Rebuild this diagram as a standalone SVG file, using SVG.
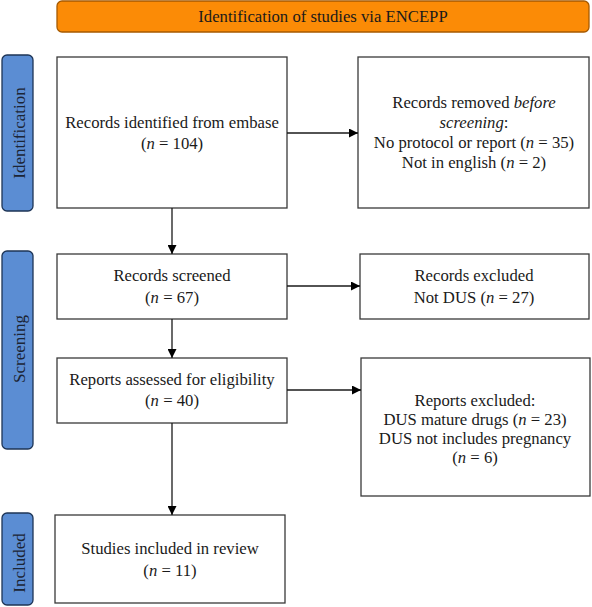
<svg xmlns="http://www.w3.org/2000/svg" width="592" height="607" viewBox="0 0 592 607">
<style>
  .box { fill: #ffffff; stroke: #3a3a3a; stroke-width: 1.3; }
  .side { fill: #5b8dd3; stroke: #1e3556; stroke-width: 1.3; }
  .hdr { fill: #fb8b06; stroke: #a65a00; stroke-width: 1.3; }
  .t { font-family: "Liberation Serif", "Times New Roman", serif; font-size: 16.7px; fill: #1a1a1a; text-anchor: middle; }
  .st { font-family: "Liberation Serif", "Times New Roman", serif; font-size: 17px; fill: #1b2535; text-anchor: middle; }
  .conn { stroke: #1a1a1a; stroke-width: 1.3; fill: none; marker-end: url(#ah); }
</style>
<defs>
  <marker id="ah" viewBox="0 0 10 10" refX="10" refY="5" markerWidth="9" markerHeight="9" markerUnits="userSpaceOnUse" orient="auto">
    <path d="M0,0 L10,5 L0,10 z" fill="#000"/>
  </marker>
</defs>
<rect width="592" height="607" fill="#ffffff"/>

<g id="header">
  <rect class="hdr" x="57" y="1" width="532" height="31" rx="5"/>
  <text class="t" x="323" y="22">Identification of studies via ENCEPP</text>
</g>

<g id="side-identification">
  <rect class="side" x="2" y="55" width="31" height="156" rx="5"/>
  <text class="st" transform="translate(25,133) rotate(-90)">Identification</text>
</g>
<g id="side-screening">
  <rect class="side" x="2" y="251" width="31" height="198" rx="5"/>
  <text class="st" transform="translate(25,349) rotate(-90)">Screening</text>
</g>
<g id="side-included">
  <rect class="side" x="2" y="513" width="31" height="92" rx="5"/>
  <text class="st" transform="translate(25,563) rotate(-90)">Included</text>
</g>

<g id="identified">
  <rect class="box" x="57" y="57" width="230" height="151"/>
  <text class="t" x="172" y="128">Records identified from embase</text>
  <text class="t" x="172" y="149">(<tspan font-style="italic">n</tspan> = 104)</text>
</g>

<g id="removed">
  <rect class="box" x="358" y="57" width="231" height="151"/>
  <text class="t" x="474" y="108">Records removed <tspan font-style="italic">before</tspan></text>
  <text class="t" x="474" y="128"><tspan font-style="italic">screening</tspan>:</text>
  <text class="t" x="474" y="148">No protocol or report (<tspan font-style="italic">n</tspan> = 35)</text>
  <text class="t" x="474" y="168">Not in english (<tspan font-style="italic">n</tspan> = 2)</text>
</g>

<g id="screened">
  <rect class="box" x="57" y="254" width="230" height="65"/>
  <text class="t" x="172" y="281">Records screened</text>
  <text class="t" x="172" y="303">(<tspan font-style="italic">n</tspan> = 67)</text>
</g>

<g id="excluded">
  <rect class="box" x="360" y="254" width="229" height="65"/>
  <text class="t" x="474" y="281">Records excluded</text>
  <text class="t" x="474" y="303">Not DUS (<tspan font-style="italic">n</tspan> = 27)</text>
</g>

<g id="assessed">
  <rect class="box" x="57" y="358" width="230" height="65"/>
  <text class="t" x="172" y="385">Reports assessed for eligibility</text>
  <text class="t" x="172" y="406">(<tspan font-style="italic">n</tspan> = 40)</text>
</g>

<g id="reports-excluded">
  <rect class="box" x="361" y="358" width="229" height="138"/>
  <text class="t" x="475" y="406">Reports excluded:</text>
  <text class="t" x="475" y="425">DUS mature drugs (<tspan font-style="italic">n</tspan> = 23)</text>
  <text class="t" x="475" y="444">DUS not includes pregnancy</text>
  <text class="t" x="475" y="463">(<tspan font-style="italic">n</tspan> = 6)</text>
</g>

<g id="included">
  <rect class="box" x="55" y="515" width="230" height="88"/>
  <text class="t" x="170" y="554">Studies included in review</text>
  <text class="t" x="170" y="576">(<tspan font-style="italic">n</tspan> = 11)</text>
</g>

<g id="connectors">
  <line class="conn" x1="287" y1="133" x2="358" y2="133"/>
  <line class="conn" x1="172" y1="208" x2="172" y2="254"/>
  <line class="conn" x1="287" y1="286" x2="360" y2="286"/>
  <line class="conn" x1="172" y1="319" x2="172" y2="358"/>
  <line class="conn" x1="287" y1="390" x2="361" y2="390"/>
  <line class="conn" x1="172" y1="423" x2="172" y2="515"/>
</g>
</svg>
